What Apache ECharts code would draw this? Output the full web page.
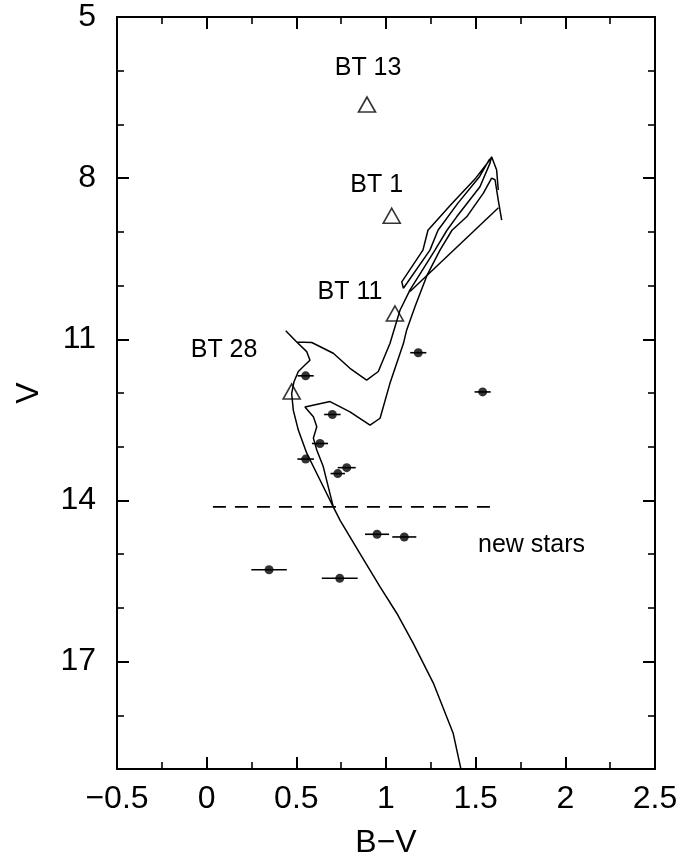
<!DOCTYPE html>
<html>
<head>
<meta charset="utf-8">
<script src="https://cdn.jsdelivr.net/npm/echarts@6/dist/echarts.min.js"></script>
<style>
html,body{margin:0;padding:0;background:#fff;}
#chart{width:691px;height:856px;}
</style>
</head>
<body>
<div id="chart"></div>
<script>
// ---- Data ----
// Stars with photometry (filled circles, horizontal error bars)
var starBV  = [0.552, 1.180, 0.701, 0.632, 0.552, 0.731, 0.781, 1.539, 0.950, 1.102, 0.348, 0.742];
var starV   = [11.68, 11.25, 12.40, 12.94, 13.23, 13.50, 13.39, 11.98, 14.63, 14.68, 15.29, 15.45];
var starErr = [0.045, 0.045, 0.046, 0.045, 0.046, 0.040, 0.050, 0.045, 0.067, 0.067, 0.099, 0.100];

// Named bright stars (open triangles)
var btNames = ['BT 13', 'BT 1', 'BT 11', 'BT 28'];
var btBV    = [0.894, 1.032, 1.050, 0.474];
var btV     = [6.63, 8.70, 10.52, 11.97];

// Isochrone A
var isoABV = [1.417,1.375,1.264,1.152,1.060,0.967,0.855,0.744,0.706,0.632,0.558,0.511,0.483,0.474,0.487,0.511,0.548,0.576,0.558,0.502,0.441,0.502,0.586,0.706,0.799,0.892,0.957,1.022,1.078,1.134,1.273,1.340,1.394,1.524,1.580,1.589,1.617,1.626];
var isoAV  = [18.99,18.34,17.40,16.66,16.10,15.61,14.99,14.37,14.12,13.62,13.12,12.69,12.32,12.01,11.79,11.60,11.48,11.39,11.23,11.05,10.84,11.05,11.06,11.26,11.54,11.76,11.60,11.08,10.46,10.08,9.34,8.97,8.72,8.16,7.72,7.60,7.85,8.22];
// Isochrone B
var isoBBV = [0.706,0.650,0.614,0.595,0.614,0.595,0.548,0.688,0.799,0.911,0.967,1.022,1.097,1.115,1.162,1.230,1.301,1.368,1.450,1.543,1.589,1.608,1.626,1.645];
var isoBV  = [14.12,13.37,13.06,12.84,12.63,12.44,12.26,12.16,12.35,12.60,12.47,11.82,11.08,10.83,10.39,9.80,9.34,8.97,8.72,8.28,8.00,8.03,8.41,8.78];
// Giant-branch loop
var loopBV = [1.097,1.088,1.206,1.234,1.360,1.500,1.570,1.589,1.575,1.520,1.400,1.290,1.245,1.097];
var loopV  = [10.05,9.93,9.34,8.97,8.50,8.00,7.70,7.62,7.66,7.98,8.47,8.97,9.34,10.05];
// Straight connecting segment
var segBV = [1.134, 1.627];
var segV  = [10.11, 8.55];

// Dashed separator
var dashBV = [0.035, 1.62];
var dashV  = [14.12, 14.12];

// Annotation
var noteText = ['new stars'];
var noteBV   = [1.513];
var noteV    = [14.84];
// Triangle label anchors
var btLabelBV = [0.900, 0.948, 0.799, 0.097];
var btLabelV  = [5.96, 8.13, 10.12, 11.21];

// Axis ticks
var xMin = -0.5, xMax = 2.5, xStep = 0.5;
var yMin = 5, yMax = 19, yStep = 3;

function pairs(a, b) { return a.map(function (v, i) { return [v, b[i]]; }); }

var FONT = 'Liberation Sans, Arial, Helvetica, sans-serif';
var black = '#000';

function lineSeries(bv, v, dashed) {
  return {
    type: 'line', data: pairs(bv, v), showSymbol: false, symbol: 'none',
    lineStyle: { color: black, width: dashed ? 1.6 : 1.5, type: dashed ? [13, 9] : 'solid' },
    silent: true, z: 2
  };
}

var xBase = {
  type: 'value', min: xMin, max: xMax, interval: xStep, gridIndex: 0,
  axisLine: { show: true, onZero: false, lineStyle: { color: black, width: 2 } },
  axisTick: { show: true, inside: true, length: 12, lineStyle: { color: black, width: 2 } },
  minorTick: { show: true, splitNumber: 2, length: 7, lineStyle: { color: black, width: 1.6 } },
  splitLine: { show: false }, minorSplitLine: { show: false }
};
var xAxes = [
  Object.assign({}, xBase, {
    position: 'bottom',
    axisLabel: { show: true, fontSize: 32, color: black, fontFamily: FONT, margin: 14,
      formatter: function (v) { return String(v).replace('-', '\u2212'); } },
    name: 'B\u2212V', nameLocation: 'middle', nameGap: 58,
    nameTextStyle: { fontSize: 32, color: black, fontFamily: FONT }
  }),
  Object.assign({}, xBase, { position: 'top', axisLabel: { show: false } })
];

function yAxisDef(pos, major, withLabel) {
  var o = {
    type: 'value', min: yMin, max: yMax, interval: major ? yStep : 1, inverse: true,
    position: pos, gridIndex: 0, offset: 0,
    axisLine: { show: true, onZero: false, lineStyle: { color: black, width: 2 } },
    axisTick: { show: true, inside: true, length: major ? 12 : 7, lineStyle: { color: black, width: major ? 2 : 1.6 } },
    splitLine: { show: false },
    axisLabel: { show: false }
  };
  if (withLabel) {
    o.axisLabel = { show: true, fontSize: 32, color: black, fontFamily: FONT, margin: 21, showMaxLabel: false };
    o.name = 'V'; o.nameLocation = 'middle'; o.nameGap = 72;
    o.nameTextStyle = { fontSize: 32, color: black, fontFamily: FONT };
  }
  return o;
}
var yAxes = [
  yAxisDef('left', true, true),
  yAxisDef('left', false, false),
  yAxisDef('right', true, false),
  yAxisDef('right', false, false)
];

var errData = starBV.map(function (b, i) { return [b, starV[i], starErr[i]]; });

var labelData = btNames.map(function (n, i) {
  return { name: n, value: [btLabelBV[i], btLabelV[i]] };
}).concat(noteText.map(function (n, i) {
  return { name: n, value: [noteBV[i], noteV[i]], label: { align: 'left' } };
}));

var option = {
  animation: false,
  backgroundColor: '#fff',
  grid: { left: 117, right: 36, top: 17, bottom: 87, containLabel: false, outerBoundsMode: 'none' },
  xAxis: xAxes,
  yAxis: yAxes,
  series: [
    lineSeries(isoABV, isoAV, false),
    lineSeries(isoBBV, isoBV, false),
    lineSeries(loopBV, loopV, false),
    lineSeries(segBV, segV, false),
    lineSeries(dashBV, dashV, true),
    {
      type: 'custom', data: errData, silent: true, z: 3,
      renderItem: function (params, api) {
        var x = api.value(0), y = api.value(1), e = api.value(2);
        var p1 = api.coord([x - e, y]), p2 = api.coord([x + e, y]);
        return { type: 'line', shape: { x1: p1[0], y1: p1[1], x2: p2[0], y2: p2[1] },
          style: { stroke: black, lineWidth: 1.6 } };
      }
    },
    {
      type: 'scatter', data: pairs(starBV, starV), symbol: 'circle', symbolSize: 9,
      itemStyle: { color: black }, silent: true, z: 4
    },
    {
      type: 'scatter', data: pairs(btBV, btV), symbol: 'triangle', symbolSize: [17, 15],
      itemStyle: { color: 'rgba(0,0,0,0)', borderColor: black, borderWidth: 1.6 }, silent: true, z: 4
    },
    {
      type: 'scatter', data: labelData, symbol: 'circle', symbolSize: 1,
      itemStyle: { color: 'rgba(0,0,0,0)' }, silent: true, z: 5,
      label: { show: true, position: 'inside', formatter: '{b}', fontSize: 25, color: black,
        fontFamily: FONT, textBorderWidth: 0, opacity: 1 }
    }
  ]
};

var chart = echarts.init(document.getElementById('chart'), null, { renderer: 'canvas' });
chart.setOption(option);
</script>
</body>
</html>
